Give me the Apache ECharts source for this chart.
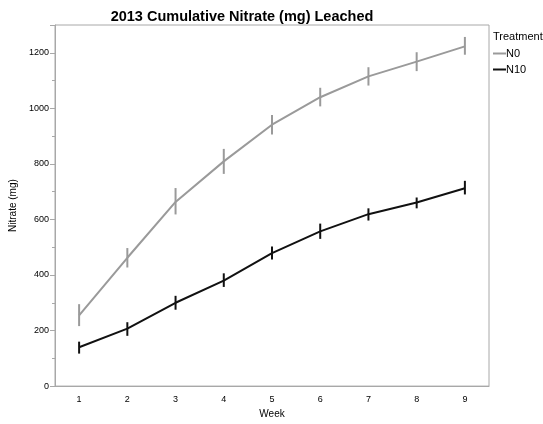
<!DOCTYPE html>
<html>
<head>
<meta charset="utf-8">
<script src="https://cdn.jsdelivr.net/npm/echarts@6/dist/echarts.min.js"></script>
<style>
  html, body { margin: 0; padding: 0; background: #fff; }
  #chart { width: 543px; height: 424px; }
</style>
</head>
<body>
<div id="chart"></div>
<script>
// Weeks and cumulative nitrate leached (mg), mean with error-bar bounds
const weeks = ['1', '2', '3', '4', '5', '6', '7', '8', '9'];
const n0Mean = [255, 462, 663, 809, 941, 1040, 1115, 1168, 1223];
const n0Low  = [216, 427, 618, 764, 906, 1007, 1082, 1134, 1193];
const n0High = [295, 497, 713, 854, 976, 1074, 1148, 1202, 1257];
const n10Mean = [140, 207, 300, 380, 479, 557, 619, 661, 712];
const n10Low  = [117, 181, 275, 357, 456, 530, 596, 640, 690];
const n10High = [160, 230, 325, 406, 503, 585, 640, 679, 739];

const N0_COLOR = '#9a9a9a';
const N10_COLOR = '#111111';
const FONT = 'Liberation Sans, Arial, Helvetica, sans-serif';

function errorBars(low, high) {
  return low.map((v, i) => [i, v, high[i]]);
}

function errorBarSeries(name, low, high, color) {
  return {
    type: 'custom',
    name: name,
    data: errorBars(low, high),
    encode: { x: 0, y: [1, 2] },
    z: 3,
    renderItem: function (params, api) {
      const lo = api.coord([api.value(0), api.value(1)]);
      const hi = api.coord([api.value(0), api.value(2)]);
      return {
        type: 'line',
        shape: { x1: lo[0], y1: lo[1], x2: hi[0], y2: hi[1] },
        style: { stroke: color, lineWidth: 2 }
      };
    }
  };
}

const chart = echarts.init(document.getElementById('chart'));
chart.setOption({
  animation: false,
  backgroundColor: '#fff',
  title: {
    text: '2013 Cumulative Nitrate (mg) Leached',
    left: 237, top: 4, textAlign: 'center',
    textStyle: { fontFamily: FONT, fontSize: 14.5, fontWeight: 'bold', color: '#000' }
  },
  grid: {
    left: 52, right: 54, top: 25, bottom: 29,
    show: true, borderColor: '#a8a8a8', borderWidth: 1, backgroundColor: 'transparent'
  },
  legend: {
    orient: 'vertical', left: 493, top: 48, padding: 0,
    itemWidth: 13, itemHeight: 2, itemGap: 5,
    icon: 'rect',
    data: ['N0', 'N10'],
    textStyle: { fontFamily: FONT, fontSize: 11, color: '#000', padding: [0, 0, 0, -5] }
  },
  graphic: [{
    type: 'text', left: 493, top: 31,
    style: { text: 'Treatment', font: '11px ' + FONT, fill: '#000' }
  }],
  xAxis: {
    type: 'category',
    data: weeks,
    boundaryGap: true,
    name: 'Week', nameLocation: 'middle', nameGap: 21,
    nameTextStyle: { fontFamily: FONT, fontSize: 10, color: '#000' },
    axisLine: { lineStyle: { color: '#a8a8a8' } },
    axisTick: { show: false },
    axisLabel: { fontFamily: FONT, fontSize: 9, color: '#000', margin: 9 },
    splitLine: { show: false }
  },
  yAxis: {
    type: 'value',
    min: 0, max: 1300, interval: 200,
    name: 'Nitrate (mg)', nameLocation: 'middle', nameGap: 37,
    nameTextStyle: { fontFamily: FONT, fontSize: 10, color: '#000' },
    axisLine: { show: true, lineStyle: { color: '#a8a8a8' } },
    axisTick: { show: true, length: 5, lineStyle: { color: '#a8a8a8' } },
    minorTick: { show: true, splitNumber: 2, length: 3, lineStyle: { color: '#a8a8a8' } },
    axisLabel: {
      fontFamily: FONT, fontSize: 9, color: '#000', margin: 6,
      formatter: v => (v % 200 === 0 && v <= 1200 ? String(v) : '')
    },
    splitLine: { show: false }
  },
  series: [
    {
      name: 'N0', type: 'line', data: n0Mean, showSymbol: false, symbol: 'none',
      lineStyle: { color: N0_COLOR, width: 2 }, itemStyle: { color: N0_COLOR }, z: 2
    },
    {
      name: 'N10', type: 'line', data: n10Mean, showSymbol: false, symbol: 'none',
      lineStyle: { color: N10_COLOR, width: 2 }, itemStyle: { color: N10_COLOR }, z: 2
    },
    errorBarSeries('N0', n0Low, n0High, N0_COLOR),
    errorBarSeries('N10', n10Low, n10High, N10_COLOR)
  ]
});
</script>
</body>
</html>
